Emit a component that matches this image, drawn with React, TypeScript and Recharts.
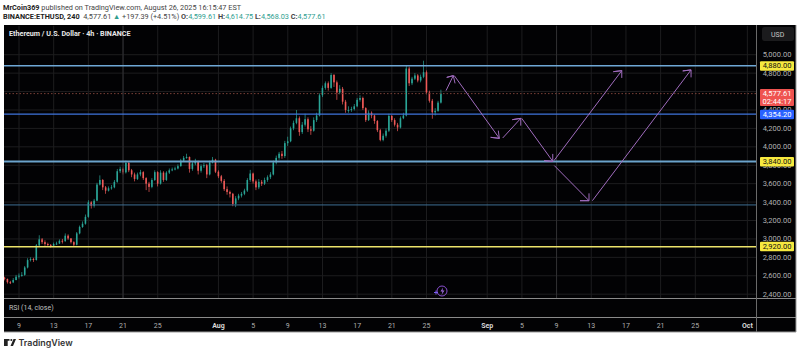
import React from "react";
import { ComposedChart, Bar, Line, XAxis, YAxis, CartesianGrid, ReferenceLine } from "recharts";

const closes = [2565,2530,2528,2554,2590,2601,2610,2690,2770,2782,
2771,2930,2995,2965,2945,2935,2925,2945,2950,2980,
2975,3035,3005,2965,2937,3060,3130,3165,3240,3397,
3360,3415,3590,3640,3560,3524,3550,3560,3620,3735,
3760,3723,3825,3745,3700,3651,3700,3725,3660,3600,
3565,3640,3725,3600,3720,3640,3720,3745,3755,3765,
3790,3850,3880,3890,3760,3820,3840,3740,3790,3800,
3700,3830,3860,3730,3680,3630,3540,3510,3490,3380,
3440,3470,3490,3525,3640,3710,3625,3560,3620,3600,
3640,3670,3700,3830,3880,3925,3900,4040,4060,4200,
4260,4310,4160,4240,4300,4190,4175,4290,4340,4560,
4640,4690,4640,4780,4700,4590,4630,4490,4400,4400,
4410,4440,4510,4530,4420,4290,4370,4340,4280,4180,
4075,4120,4175,4335,4290,4240,4210,4310,4340,4850,
4690,4740,4775,4720,4760,4810,4590,4500,4375,4390,
4480,4577];
const highs = [2590,2570,2545,2575,2610,2625,2640,2705,2790,2800,
2795,2945,3040,3010,2985,2960,2945,2960,2970,2995,
3000,3060,3050,3010,2975,3075,3145,3190,3265,3420,
3410,3435,3610,3690,3650,3575,3570,3585,3640,3760,
3785,3775,3850,3835,3760,3720,3720,3750,3735,3670,
3620,3660,3745,3735,3745,3735,3735,3765,3775,3785,
3810,3870,3900,3925,3895,3840,3870,3850,3810,3825,
3815,3850,3890,3870,3745,3695,3650,3570,3525,3500,
3465,3490,3510,3545,3660,3750,3720,3645,3650,3640,
3665,3690,3725,3850,3905,3945,3955,4065,4110,4220,
4285,4400,4330,4270,4360,4320,4225,4320,4370,4580,
4665,4710,4710,4800,4790,4720,4670,4650,4510,4440,
4435,4465,4530,4560,4545,4430,4395,4385,4350,4290,
4195,4145,4200,4360,4345,4310,4260,4330,4370,4880,
4870,4760,4800,4790,4785,4935,4830,4610,4520,4420,
4500,4620];
const lows = [2550,2515,2510,2520,2550,2570,2590,2600,2680,2755,
2750,2765,2920,2945,2925,2915,2905,2915,2935,2945,
2950,2970,2990,2950,2920,2930,3050,3120,3155,3230,
3330,3340,3410,3580,3530,3490,3515,3535,3550,3610,
3715,3700,3710,3725,3670,3625,3640,3680,3640,3530,
3510,3550,3630,3570,3590,3620,3630,3705,3735,3745,
3755,3785,3840,3870,3720,3740,3800,3700,3720,3770,
3660,3690,3820,3715,3660,3610,3520,3480,3450,3355,
3345,3420,3450,3475,3510,3620,3600,3530,3540,3575,
3585,3620,3650,3690,3810,3860,3870,3880,4010,4050,
4180,4245,4120,4140,4220,4160,4130,4165,4270,4330,
4540,4620,4610,4630,4650,4510,4570,4460,4370,4370,
4380,4395,4430,4490,4400,4270,4280,4310,4250,4160,
4060,4060,4100,4160,4270,4220,4170,4200,4300,4330,
4660,4670,4725,4700,4700,4745,4570,4480,4305,4340,
4380,4470];

const firstOpen = 2580;
const firstDay = 6.33;
const barStepDays = 1 / 3;

const candles = closes.map((close, i) => ({
  day: firstDay + i * barStepDays,
  open: i === 0 ? firstOpen : closes[i - 1],
  close,
  high: highs[i],
  low: lows[i],
}));

const dayTicks = [8, 12, 16, 20, 24, 31, 35, 39, 43, 47, 51, 55, 62, 66, 70, 74, 78, 82, 86, 92];
const dayLabels = ["9", "13", "17", "21", "25", "Aug", "5", "9", "13", "17", "21", "25", "Sep", "5", "9", "13", "17", "21", "25", "Oct"];
const priceTicks = [5000, 4800, 4600, 4400, 4200, 4000, 3800, 3600, 3400, 3200, 3000, 2800, 2600, 2400];

const tagPrices = [4880, 4577.61, 4354.2, 3840, 2920];
const tagTexts = ["4,880.00", "4,577.61", "4,354.20", "3,840.00", "2,920.00"];
const tagSub = ["", "02:44:17", "", "", ""];
const tagFill = ["#f7e93f", "#ef5350", "#2962ff", "#f7e93f", "#f7e93f"];
const tagInk = ["#111", "#fff", "#fff", "#111", "#111"];

const arrows = [
  [[57.25, 4610], [58.09, 4773], [57.33, 4754], [58.09, 4773], [58.29, 4689]],
  [[58.2, 4773], [63.4, 4092], [62.4, 4103], [63.4, 4092], [63.28, 4176]],
  [[63.79, 4096], [65.87, 4309], [64.9, 4295], [65.87, 4309], [65.87, 4230]],
  [[65.98, 4309], [69.56, 3842], [68.56, 3850], [69.56, 3842], [69.56, 3923]],
  [[69.7, 3850], [77.52, 4827], [76.55, 4816], [77.52, 4827], [77.52, 4748]],
  [[69.74, 3796], [73.74, 3415], [72.7, 3415], [73.74, 3415], [73.74, 3495]],
  [[74.13, 3415], [85.51, 4835], [84.55, 4824], [85.51, 4835], [85.51, 4754]],
];

const FONT = "Roboto, 'Liberation Sans', sans-serif";

const Candle = (props: any) => {
  const { x, y, width, height, payload } = props;
  const { open, close, high, low } = payload;
  const up = close >= open;
  const color = up ? "#2aa597" : "#ef5a58";
  const k = height / (high - low || 1);
  const top = y + (high - Math.max(open, close)) * k;
  const h = Math.max(1, Math.abs(close - open) * k);
  const cx = x + width / 2;
  return (
    <g>
      <rect x={cx - 0.35} y={y} width={0.7} height={height} fill={color} />
      <rect x={cx - 0.8} y={top} width={1.6} height={h} fill={color} />
    </g>
  );
};

const XTick = (props: any) => {
  const { x, y, payload } = props;
  const i = dayTicks.indexOf(payload.value);
  const label = dayLabels[i];
  const major = label === "Aug" || label === "Sep" || label === "Oct";
  return (
    <text x={x} y={y + 21.5} textAnchor="middle" fontSize={7} fontFamily={FONT} fontWeight={major ? 700 : 400} fill={major ? "#d8d8d8" : "#b0b0b0"}>
      {label}
    </text>
  );
};

const YTick = (props: any) => {
  const { y, payload } = props;
  const i = tagPrices.indexOf(payload.value);
  if (i >= 0) {
    const sub = tagSub[i];
    return (
      <g>
        <rect x={760} y={y - 4.5} width={34} height={sub ? 17 : 9.5} rx={1} fill={tagFill[i]} />
        <text x={777} y={y + 2.5} textAnchor="middle" fontSize={7.5} fontFamily={FONT} fill={tagInk[i]}>{tagTexts[i]}</text>
        {sub ? <text x={777} y={y + 10.5} textAnchor="middle" fontSize={7.5} fontFamily={FONT} fill={tagInk[i]}>{sub}</text> : null}
      </g>
    );
  }
  return (
    <text x={777} y={y + 2.5} textAnchor="middle" fontSize={7.5} fontFamily={FONT} fill="#b0b0b0">
      {payload.value.toLocaleString("en-US", { minimumFractionDigits: 2 })}
    </text>
  );
};

const teal = "#2f9e90";

export default function App() {
  return (
    <div style={{ position: "absolute", left: 0, top: 0, width: 800, height: 353, background: "#fff", overflow: "hidden", fontFamily: FONT }}>
      <div style={{ position: "absolute", left: 3, top: 3, fontSize: 7.3, lineHeight: "9px", color: "#444", whiteSpace: "nowrap" }}>
        <b style={{ color: "#222" }}>MrCoin369</b> published on TradingView.com, August 26, 2025 16:15:47 EST
      </div>
      <div style={{ position: "absolute", left: 3, top: 12, fontSize: 7.3, lineHeight: "9px", color: "#444", whiteSpace: "nowrap" }}>
        <b style={{ color: "#222" }}>BINANCE:ETHUSD, 240</b>&nbsp; 4,577.61 <span style={{ color: teal }}>▲</span> +197.39 (+4.51%) <b>O:</b><span style={{ color: teal }}>4,599.61</span> <b>H:</b><span style={{ color: teal }}>4,614.75</span> <b>L:</b><span style={{ color: teal }}>4,568.03</span> <b>C:</b><span style={{ color: teal }}>4,577.61</span>
      </div>
      <div style={{ position: "absolute", left: 4, top: 25, width: 792, height: 307, background: "#020204" }} />
      <div style={{ position: "absolute", left: 0, top: 0 }}>
        <ComposedChart width={800} height={353} data={candles} margin={{ top: 25.7, right: 0, bottom: 0, left: 4 }}>
          <CartesianGrid stroke="#1d1d1f" strokeWidth={1} horizontalValues={priceTicks} verticalValues={dayTicks} />
          <XAxis dataKey="day" type="number" domain={[6.27, 93]} ticks={dayTicks} interval={0} height={54.3} axisLine={false} tickLine={false} tick={<XTick />} allowDataOverflow />
          <YAxis orientation="right" type="number" domain={[2351, 5315]} ticks={[...priceTicks, ...tagPrices]} interval={0} width={44} axisLine={false} tickLine={false} tick={<YTick />} allowDataOverflow />
          <ReferenceLine x={20} stroke="#313133" />
          <ReferenceLine x={70} stroke="#313133" />
          <Bar dataKey={(d: any) => [d.low, d.high]} barSize={2} shape={<Candle />} isAnimationActive={false} />
          <ReferenceLine y={4577.61} stroke="#7a4038" strokeDasharray="1.5 2" />
          <ReferenceLine y={4880} stroke="#6fa8d6" strokeWidth={1.5} />
          <ReferenceLine y={4354.2} stroke="#3f74dc" strokeWidth={1.3} />
          <ReferenceLine y={3840} stroke="#6ba3cc" strokeWidth={2} />
          <ReferenceLine y={3369} stroke="#3f6f94" strokeWidth={1} />
          <ReferenceLine y={2915} stroke="#ece36a" strokeWidth={1.5} />
          {arrows.map((a, i) => (
            <Line
              key={i}
              data={a.map(([day, price]) => ({ day, price }))}
              dataKey="price"
              stroke="#a06cbe"
              strokeWidth={1}
              dot={false}
              activeDot={false}
              isAnimationActive={false}
              legendType="none"
            />
          ))}
        </ComposedChart>
      </div>
      <svg width={800} height={353} style={{ position: "absolute", left: 0, top: 0, pointerEvents: "none" }}>
        <line x1={4} x2={796} y1={298.5} y2={298.5} stroke="#8a8a8a" />
        <line x1={4} x2={796} y1={317.5} y2={317.5} stroke="#8a8a8a" />
        <line x1={4} x2={796} y1={332} y2={332} stroke="#9a9a9a" />
        <line x1={756.5} x2={756.5} y1={25} y2={332} stroke="#6a6a6a" />
        <line x1={796} x2={796} y1={25} y2={332} stroke="#9a9a9a" />
        <rect x={762} y={27} width={32} height={14} rx={2.5} fill="#1b1b1d" />
        <text x={771} y={36.5} fontSize={7} fontFamily={FONT} fill="#c8c8c8">USD</text>
        <text x={9} y={36} fontSize={7.2} fontWeight={700} fontFamily={FONT} fill="#e8e8e8">Ethereum / U.S. Dollar · 4h · BINANCE</text>
        <text x={9} y={310} fontSize={7} fontFamily={FONT} fill="#c0c0c0">RSI (14, close)</text>
        <circle cx={442} cy={291} r={5} fill="none" stroke="#8a4fd0" strokeWidth={1} />
        <path d="M443 287.5l-2.5 4h2l-1 3.5 3-4.5h-2z" fill="#a06be0" />
        <path d="M434 292.5h4M436 290.5v4" stroke="#7a5cf0" strokeWidth={1} />
        <path d="M4 339h5.5v1.8h-1.8v5.2h-3.7z M10.5 346l3-7h2.5l-3 7z" fill="#222" />
        <circle cx={11.3} cy={340} r={1} fill="#222" />
        <text x={18.5} y={346} fontSize={8.9} fontWeight={600} fontFamily="Inter, Roboto, sans-serif" fill="#333">TradingView</text>
      </svg>
    </div>
  );
}
